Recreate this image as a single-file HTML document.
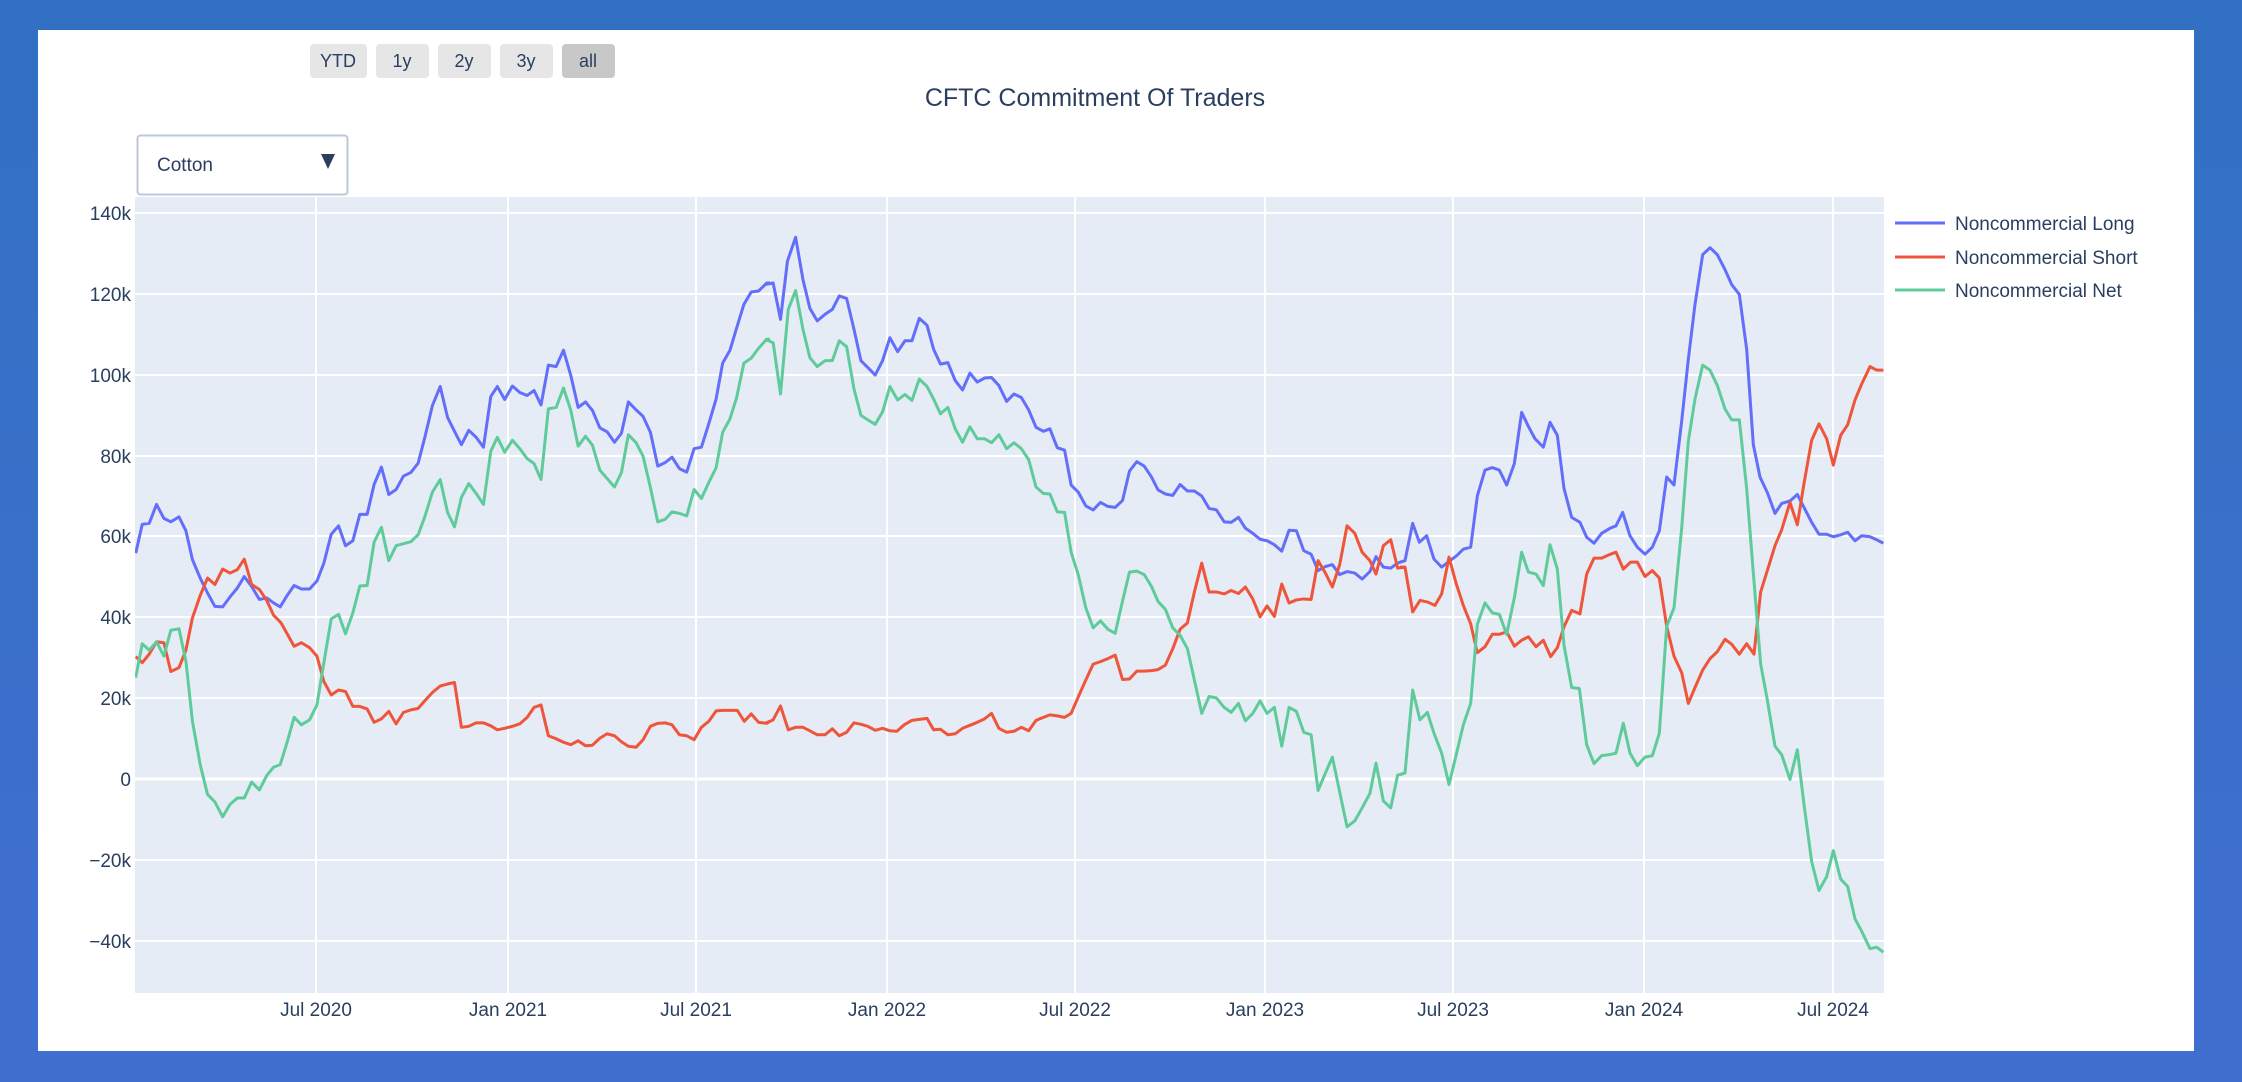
<!DOCTYPE html>
<html><head><meta charset="utf-8"><style>
html,body{margin:0;padding:0;}
body{width:2242px;height:1082px;background:linear-gradient(#3170c3,#416fd0);overflow:hidden;font-family:"Liberation Sans",sans-serif;}
</style></head><body>
<svg width="2242" height="1082" viewBox="0 0 2242 1082" xmlns="http://www.w3.org/2000/svg" style="position:absolute;left:0;top:0" font-family="Liberation Sans, sans-serif">
<defs><clipPath id="pc"><rect x="135" y="197" width="1749" height="796"/></clipPath></defs>
<rect x="38" y="30" width="2156" height="1021" fill="#fff"/>
<rect x="135" y="197" width="1749" height="796" fill="#e5ecf6"/>
<g stroke="#fff" stroke-width="2">
<line x1="135" x2="1884" y1="213" y2="213"/><line x1="135" x2="1884" y1="294" y2="294"/><line x1="135" x2="1884" y1="375" y2="375"/><line x1="135" x2="1884" y1="456" y2="456"/><line x1="135" x2="1884" y1="536" y2="536"/><line x1="135" x2="1884" y1="617" y2="617"/><line x1="135" x2="1884" y1="698" y2="698"/><line x1="135" x2="1884" y1="860" y2="860"/><line x1="135" x2="1884" y1="941" y2="941"/>
<line x1="135" x2="1884" y1="779" y2="779" stroke-width="3"/>
<line x1="316" x2="316" y1="197" y2="993"/><line x1="508" x2="508" y1="197" y2="993"/><line x1="696" x2="696" y1="197" y2="993"/><line x1="887" x2="887" y1="197" y2="993"/><line x1="1075" x2="1075" y1="197" y2="993"/><line x1="1265" x2="1265" y1="197" y2="993"/><line x1="1453" x2="1453" y1="197" y2="993"/><line x1="1644" x2="1644" y1="197" y2="993"/><line x1="1833" x2="1833" y1="197" y2="993"/>
</g>
<g fill="#2a3f5f" font-size="19" text-anchor="end">
<text x="131" y="220">140k</text><text x="131" y="301">120k</text><text x="131" y="382">100k</text><text x="131" y="463">80k</text><text x="131" y="543">60k</text><text x="131" y="624">40k</text><text x="131" y="705">20k</text><text x="131" y="786">0</text><text x="131" y="867">−20k</text><text x="131" y="948">−40k</text>
</g>
<g fill="#2a3f5f" font-size="19" text-anchor="middle">
<text x="316" y="1016">Jul 2020</text><text x="508" y="1016">Jan 2021</text><text x="696" y="1016">Jul 2021</text><text x="887" y="1016">Jan 2022</text><text x="1075" y="1016">Jul 2022</text><text x="1265" y="1016">Jan 2023</text><text x="1453" y="1016">Jul 2023</text><text x="1644" y="1016">Jan 2024</text><text x="1833" y="1016">Jul 2024</text>
</g>
<text x="1095" y="106" text-anchor="middle" font-size="25" fill="#2a3f5f">CFTC Commitment Of Traders</text>
<g font-size="18" fill="#2a3f5f" text-anchor="middle">
<rect x="310" y="44" width="57" height="34" rx="4" fill="#e6e6e6"/><text x="338" y="67">YTD</text>
<rect x="376" y="44" width="53" height="34" rx="4" fill="#e6e6e6"/><text x="402" y="67">1y</text>
<rect x="438" y="44" width="53" height="34" rx="4" fill="#e6e6e6"/><text x="464" y="67">2y</text>
<rect x="500" y="44" width="53" height="34" rx="4" fill="#e6e6e6"/><text x="526" y="67">3y</text>
<rect x="562" y="44" width="53" height="34" rx="4" fill="#c8c8c8"/><text x="588" y="67">all</text>
</g>
<rect x="137.5" y="135.5" width="210" height="59" rx="3" fill="#fff" stroke="#bec8d9" stroke-width="2"/>
<text x="157" y="171" font-size="19" fill="#2a3f5f">Cotton</text>
<polygon points="321,154 335,154 328,169" fill="#2a3f5f"/>
<g clip-path="url(#pc)" fill="none" stroke-width="3" stroke-linejoin="round">
<g transform="translate(130,190) scale(0.40816,0.4975)">
<polyline vector-effect="non-scaling-stroke" stroke="#636efa" points="14,730 30,672 47,670 65,632 83,660 100,667 120,657 137,685 153,743 172,780 190,810 208,837 227,838 245,818 263,800 280,777 298,797 317,823 335,820 352,830 368,838 385,815 402,795 420,802 440,802 458,786 475,750 493,692 511,675 528,715 546,705 563,652 581,652 598,592 616,557 634,612 652,602 670,575 688,568 706,549 723,495 741,433 760,395 778,457 795,485 812,512 830,483 848,497 866,517 884,415 900,395 918,421 937,394 955,407 973,413 990,403 1007,432 1025,352 1044,355 1062,322 1080,373 1098,437 1116,426 1133,443 1151,478 1169,486 1187,507 1204,489 1221,426 1240,442 1257,455 1275,487 1293,555 1311,548 1328,537 1346,560 1364,567 1382,520 1400,517 1418,470 1436,420 1452,348 1470,322 1486,278 1504,230 1522,205 1540,203 1560,187 1568,187"/>
<polyline vector-effect="non-scaling-stroke" stroke="#ef553b" points="14,938 30,950 47,933 65,908 83,910 100,968 120,960 137,925 153,860 172,815 190,780 208,793 227,762 245,770 263,763 280,742 298,793 317,803 335,825 352,855 370,870 385,892 402,917 420,910 440,920 458,937 475,988 493,1015 511,1005 528,1008 546,1038 563,1038 581,1043 598,1070 616,1063 634,1048 652,1073 670,1050 688,1045 706,1042 723,1026 741,1010 760,997 778,993 795,990 812,1080 830,1078 848,1071 866,1071 884,1077 900,1085 918,1082 937,1078 955,1073 973,1060 990,1040 1007,1035 1025,1097 1044,1103 1062,1110 1080,1115 1098,1107 1116,1117 1133,1116 1151,1102 1169,1093 1187,1097 1204,1109 1221,1118 1240,1120 1257,1105 1275,1078 1293,1072 1311,1071 1328,1075 1346,1095 1364,1097 1382,1105 1400,1080 1418,1068 1436,1047 1452,1046 1470,1046 1488,1046 1505,1068 1522,1053 1540,1070 1560,1072 1568,1068"/>
<polyline vector-effect="non-scaling-stroke" stroke="#5fcb9a" points="14,980 30,912 47,925 65,908 83,937 100,885 120,882 137,947 153,1068 172,1155 190,1215 208,1230 227,1260 245,1235 263,1222 280,1222 298,1190 317,1206 335,1177 352,1160 368,1155 385,1110 402,1060 420,1075 440,1065 458,1035 475,950 493,862 511,853 528,892 546,850 563,796 581,795 598,708 616,678 634,745 652,715 670,711 688,707 706,693 723,655 741,607 760,582 778,648 795,677 812,618 830,590 848,610 866,632 884,525 900,497 918,527 937,503 955,520 973,540 990,550 1007,582 1025,440 1044,437 1062,398 1080,443 1098,515 1116,495 1133,513 1151,563 1169,580 1187,597 1204,568 1221,492 1240,508 1257,535 1275,598 1293,667 1311,662 1328,647 1346,650 1364,655 1382,602 1400,620 1418,588 1436,558 1452,487 1470,460 1486,418 1504,348 1522,338 1540,318 1560,300 1568,300"/>
</g>
<g transform="translate(765,190) scale(0.40816,0.4975)">
<polyline vector-effect="non-scaling-stroke" stroke="#636efa" points="0,190 20,187 38,260 55,143 75,95 93,180 110,238 128,263 147,250 165,240 182,213 200,218 218,280 235,343 252,357 270,372 288,343 306,297 325,325 343,303 360,303 378,258 397,272 413,320 430,350 448,347 466,383 484,402 502,368 520,386 538,378 555,377 573,393 592,425 610,410 628,417 646,442 664,477 682,485 698,480 716,518 734,523 750,593 768,608 786,635 804,643 822,628 840,636 858,638 876,624 893,565 911,546 929,555 947,577 963,603 981,611 999,614 1017,592 1035,605 1052,605 1070,615 1088,640 1106,643 1125,667 1142,668 1160,658 1177,680 1195,690 1213,702 1230,705 1248,713 1266,726 1284,684 1302,685 1320,725 1338,732 1355,765 1373,757 1390,753 1408,773 1426,767 1445,770 1463,782 1482,767 1497,737 1515,758 1533,760 1550,750 1568,745"/>
<polyline vector-effect="non-scaling-stroke" stroke="#ef553b" points="0,1072 20,1065 38,1037 57,1085 75,1080 93,1080 110,1087 128,1095 147,1095 165,1083 182,1097 200,1090 218,1071 235,1074 252,1078 270,1086 288,1082 306,1087 323,1088 341,1075 360,1066 378,1064 397,1062 413,1085 430,1084 448,1095 466,1093 484,1082 502,1076 520,1070 538,1063 555,1052 573,1082 592,1090 610,1088 628,1080 646,1087 664,1066 682,1060 698,1055 716,1057 734,1060 750,1052 768,1018 786,985 804,953 822,948 840,942 858,935 876,984 893,983 911,967 929,967 947,966 963,964 981,955 999,922 1017,883 1035,870 1052,808 1070,750 1088,808 1106,808 1125,812 1142,805 1160,811 1177,798 1195,822 1213,858 1230,836 1248,857 1266,792 1284,830 1302,824 1320,822 1338,823 1355,745 1373,770 1390,798 1408,753 1426,675 1445,690 1463,728 1482,745 1497,772 1515,715 1533,703 1550,760 1568,758"/>
<polyline vector-effect="non-scaling-stroke" stroke="#5fcb9a" points="0,300 20,307 38,410 57,240 75,202 93,280 110,337 128,355 147,343 165,343 182,303 200,315 218,400 235,453 252,462 270,471 288,446 306,395 325,422 343,411 360,423 378,380 397,395 413,420 430,450 448,437 466,480 484,507 502,476 520,500 538,500 555,508 573,492 592,520 610,508 628,520 646,542 664,597 682,610 698,611 716,647 734,648 750,728 768,775 786,840 804,880 822,866 840,883 858,891 876,826 893,768 911,766 929,773 947,797 963,827 981,843 999,880 1017,895 1035,922 1052,985 1070,1052 1088,1018 1106,1021 1125,1040 1142,1050 1160,1032 1177,1067 1195,1052 1213,1027 1230,1052 1248,1040 1266,1118 1284,1040 1302,1048 1320,1090 1338,1095 1355,1207 1373,1172 1390,1140 1408,1210 1426,1280 1445,1268 1463,1242 1482,1213 1497,1152 1515,1228 1533,1242 1550,1176 1568,1172"/>
</g>
<g transform="translate(1400,190) scale(0.33333,0.4975)">
<polyline vector-effect="non-scaling-stroke" stroke="#636efa" points="0,748 15,745 38,670 58,708 80,695 102,742 125,758 150,745 170,735 190,722 212,718 232,615 255,563 277,558 298,563 320,593 343,550 365,447 385,475 405,500 430,517 450,467 472,493 492,600 515,658 540,668 560,698 582,710 605,690 630,680 648,675 668,648 690,695 712,718 735,732 757,718 778,685 800,577 822,593 845,465 865,340 885,230 908,130 930,116 952,130 975,160 995,190 1018,210 1040,320 1060,512 1080,577 1102,608 1125,650 1145,630 1170,625 1192,612 1212,638 1235,668 1257,692 1280,692 1300,697 1322,693 1343,688 1365,705 1385,695 1410,697 1430,703 1450,710"/>
<polyline vector-effect="non-scaling-stroke" stroke="#ef553b" points="0,758 15,758 38,848 60,825 82,828 105,835 125,812 147,738 168,790 190,835 212,872 232,930 255,918 277,893 298,893 320,888 343,917 365,905 385,898 408,918 430,905 452,938 472,920 492,878 515,845 540,852 560,772 582,740 605,740 628,733 648,728 670,762 692,748 712,748 735,777 757,765 778,780 800,877 822,937 845,970 865,1032 885,1000 908,965 930,942 952,928 975,903 995,913 1018,933 1040,912 1062,933 1082,808 1102,765 1125,715 1145,683 1170,628 1192,673 1212,590 1235,503 1257,470 1280,500 1300,553 1322,493 1343,472 1365,422 1385,390 1410,355 1430,362 1450,362"/>
<polyline vector-effect="non-scaling-stroke" stroke="#5fcb9a" points="0,1175 15,1172 38,1005 60,1065 82,1050 102,1092 125,1132 147,1195 168,1137 190,1075 212,1032 232,873 255,830 277,850 298,853 320,893 343,820 365,728 385,768 408,772 430,795 450,713 472,762 492,915 515,1000 538,1002 560,1115 582,1153 605,1137 628,1135 648,1132 670,1072 690,1132 712,1157 735,1140 757,1137 778,1092 800,877 822,840 845,680 865,505 885,420 908,352 930,362 952,393 975,440 995,462 1018,462 1040,600 1060,770 1082,953 1102,1025 1125,1118 1145,1135 1170,1185 1192,1125 1212,1235 1235,1350 1257,1408 1280,1380 1300,1328 1322,1385 1343,1400 1365,1465 1385,1490 1410,1525 1430,1522 1450,1532"/>
</g>
</g>
<g stroke-width="3">
<line x1="1895" x2="1945" y1="223" y2="223" stroke="#636efa"/>
<line x1="1895" x2="1945" y1="257" y2="257" stroke="#ef553b"/>
<line x1="1895" x2="1945" y1="290" y2="290" stroke="#5fcb9a"/>
</g>
<g font-size="19" fill="#2a3f5f">
<text x="1955" y="230">Noncommercial Long</text>
<text x="1955" y="264">Noncommercial Short</text>
<text x="1955" y="297">Noncommercial Net</text>
</g>
</svg>
</body></html>
